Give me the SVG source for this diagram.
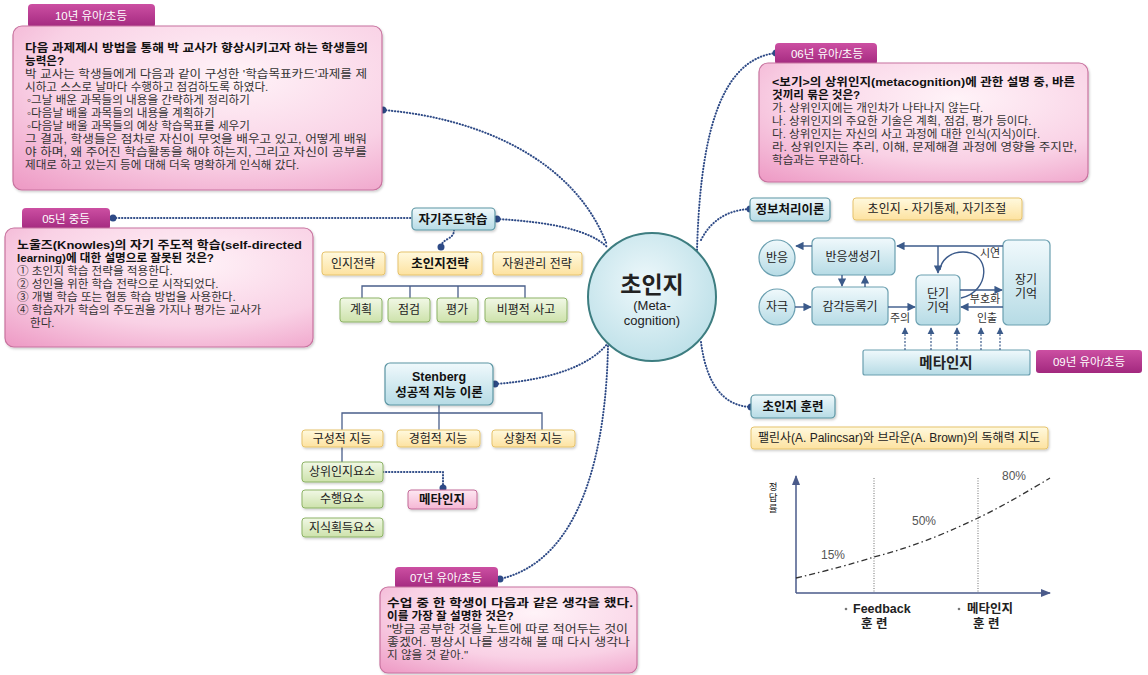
<svg xmlns="http://www.w3.org/2000/svg" width="1148" height="675" viewBox="0 0 1148 675">
<defs>
<radialGradient id="gPink" cx="0.6" cy="0.3" r="0.95">
<stop offset="0" stop-color="#fff3f8"/><stop offset="0.55" stop-color="#f9d1e5"/><stop offset="1" stop-color="#ec94c1"/>
</radialGradient>
<linearGradient id="gTab" x1="0" y1="0" x2="0" y2="1"><stop offset="0" stop-color="#cc4fa2"/><stop offset="1" stop-color="#a2287e"/></linearGradient>
<linearGradient id="gBlue" x1="0" y1="0" x2="0" y2="1"><stop offset="0" stop-color="#f0f9fc"/><stop offset="1" stop-color="#b6dbe5"/></linearGradient>
<linearGradient id="gYel" x1="0" y1="0" x2="0" y2="1"><stop offset="0" stop-color="#fff9de"/><stop offset="1" stop-color="#fde2a0"/></linearGradient>
<linearGradient id="gGrn" x1="0" y1="0" x2="0" y2="1"><stop offset="0" stop-color="#f1f8e6"/><stop offset="1" stop-color="#cde2ab"/></linearGradient>
<linearGradient id="gPk2" x1="0" y1="0" x2="0" y2="1"><stop offset="0" stop-color="#fde8f2"/><stop offset="1" stop-color="#f5b6d4"/></linearGradient>
<radialGradient id="gCirc" cx="0.45" cy="0.4" r="0.6"><stop offset="0" stop-color="#eef8fb"/><stop offset="1" stop-color="#bfe1e9"/></radialGradient>
<marker id="ah" viewBox="0 0 10 10" refX="9" refY="5" markerWidth="6" markerHeight="6" orient="auto"><path d="M0,0 L10,5 L0,10 z" fill="#3b5a8a"/></marker>
<marker id="ah2" viewBox="0 0 10 10" refX="9" refY="5" markerWidth="7" markerHeight="7" orient="auto"><path d="M0,1 L10,5 L0,9 z" fill="#4a5a8a"/></marker>
<filter id="sh" x="-10%" y="-10%" width="130%" height="140%"><feDropShadow dx="1" dy="1.5" stdDeviation="1" flood-color="#000" flood-opacity="0.2"/></filter>
</defs>
<style>
text{font-family:'Liberation Sans','Noto Sans CJK KR',sans-serif;fill:#222}
.q{fill:#333}
.b{font-weight:bold;fill:#111}
.tab{fill:url(#gTab)}
.tabt{font-size:11.5px;fill:#fff;text-anchor:middle}
.pbox{fill:url(#gPink);stroke:#c8739f;stroke-width:1.2}
.blue{fill:url(#gBlue);stroke:#5b95a3;stroke-width:1.2}
.yel{fill:url(#gYel);stroke:#e6c36c;stroke-width:1}
.grn{fill:url(#gGrn);stroke:#8db366;stroke-width:1}
.pk2{fill:url(#gPk2);stroke:#c36b98;stroke-width:1}
.lbl{font-size:12px;text-anchor:middle}
.lblb{font-size:12.5px;font-weight:bold;text-anchor:middle;fill:#111}
.dot{fill:none;stroke:#2e4a86;stroke-width:2;stroke-dasharray:0.4 2.6;stroke-linecap:round}
.end{fill:#2e4a86}
.br{fill:none;stroke:#4a5f8a;stroke-width:1.3}
.ar{fill:none;stroke:#3b5a8a;stroke-width:1.4;marker-end:url(#ah)}
.dar{fill:none;stroke:#3b5a8a;stroke-width:1.2;stroke-dasharray:2 1.5;marker-end:url(#ah)}
.ip{fill:url(#gBlue);stroke:#6a9fb0;stroke-width:1.2}
.sm{font-size:11px;text-anchor:middle;fill:#333}
.ch{font-size:12px;fill:#555;text-anchor:middle}
</style>

<g id="connectors">
<path class="dot" d="M383 110 C480 118 575 160 607 245"/>
<path class="dot" d="M497 219 C550 222 590 230 607 247"/>
<path class="dot" d="M113 218 H411"/>
<path class="dot" d="M454 230 C454 240 442 238 441 247"/>
<path class="dot" d="M697 250 C700 150 715 60 776 53"/>
<path class="dot" d="M701 240 C710 222 726 210 750 209"/>
<path class="dot" d="M701 342 C706 382 722 406 751 407"/>
<path class="dot" d="M495 384 C550 380 590 366 608 343"/>
<path class="dot" d="M608 346 C606 450 582 560 500 579"/>
<path class="dot" d="M383 472 H443 V488"/>
<circle class="end" cx="383" cy="110" r="3.5"/>
<circle class="end" cx="113" cy="218" r="3.5"/>
<circle class="end" cx="497" cy="219" r="3.5"/>
<circle class="end" cx="441" cy="247" r="3.5"/>
<circle class="end" cx="776" cy="53" r="3.5"/>
<circle class="end" cx="750" cy="209" r="3.5"/>
<circle class="end" cx="751" cy="407" r="3.5"/>
<circle class="end" cx="495" cy="384" r="3.5"/>
<circle class="end" cx="500" cy="579" r="3.5"/>
<circle class="end" cx="443" cy="488" r="3.5"/>
<path class="br" d="M362 298 V286 H525 V298 M410 286 V298 M458 286 V298"/>
<path class="br" d="M342 430 V413 H542 V430 M439 405 V430 M342 447 V462"/>
</g>

<g id="center">
<circle cx="652" cy="297" r="64" fill="url(#gCirc)" stroke="#3d7d80" stroke-width="2"/>
<text x="652" y="293" font-size="23" font-weight="bold" text-anchor="middle" fill="#111">초인지</text>
<text x="652" y="310" font-size="13" text-anchor="middle">(Meta-</text>
<text x="652" y="325" font-size="13" text-anchor="middle">cognition)</text>
</g>

<g id="q10">
<rect class="tab" x="28" y="4" width="127" height="24" rx="4"/>
<text class="tabt" x="91" y="20">10년 유아/초등</text>
<rect class="pbox" x="13" y="26" width="369" height="164" rx="9" filter="url(#sh)"/>
<text class="q b" font-size="11.6" x="25" y="52" textLength="343" lengthAdjust="spacingAndGlyphs">다음 과제제시 방법을 통해 박 교사가 향상시키고자 하는 학생들의</text>
<text class="q b" font-size="11.6" x="25" y="65">능력은?</text>
<text class="q" font-size="11.6" x="25" y="78" textLength="342" lengthAdjust="spacingAndGlyphs">박 교사는 학생들에게 다음과 같이 구성한 '학습목표카드'과제를 제</text>
<text class="q" font-size="11.6" x="25" y="91">시하고 스스로 날마다 수행하고 점검하도록 하였다.</text>
<text class="q" font-size="11.6" x="27" y="104">◦그날 배운 과목들의 내용을 간략하게 정리하기</text>
<text class="q" font-size="11.6" x="27" y="117">◦다음날 배울 과목들의 내용을 계획하기</text>
<text class="q" font-size="11.6" x="27" y="130">◦다음날 배울 과목들의 예상 학습목표를 세우기</text>
<text class="q" font-size="11.6" x="25" y="143" textLength="342" lengthAdjust="spacingAndGlyphs">그 결과, 학생들은 점차로 자신이 무엇을 배우고 있고, 어떻게 배워</text>
<text class="q" font-size="11.6" x="25" y="156" textLength="342" lengthAdjust="spacingAndGlyphs">야 하며, 왜 주어진 학습활동을 해야 하는지, 그리고 자신이 공부를</text>
<text class="q" font-size="11.6" x="25" y="169">제대로 하고 있는지 등에 대해 더욱 명확하게 인식해 갔다.</text>
</g>

<g id="q05">
<rect class="tab" x="22" y="208" width="88" height="22" rx="4"/>
<text class="tabt" x="66" y="223">05년 중등</text>
<rect class="pbox" x="5" y="228" width="308" height="119" rx="9" filter="url(#sh)"/>
<text class="q b" font-size="11.6" x="17" y="249" textLength="285" lengthAdjust="spacingAndGlyphs">노울즈(Knowles)의 자기 주도적 학습(self-directed</text>
<text class="q b" font-size="11.6" x="17" y="262">learning)에 대한 설명으로 잘못된 것은?</text>
<text class="q" font-size="11.6" x="17" y="275">① 초인지 학습 전략을 적용한다.</text>
<text class="q" font-size="11.6" x="17" y="288">② 성인을 위한 학습 전략으로 시작되었다.</text>
<text class="q" font-size="11.6" x="17" y="301">③ 개별 학습 또는 협동 학습 방법을 사용한다.</text>
<text class="q" font-size="11.6" x="17" y="314">④ 학습자가 학습의 주도권을 가지나 평가는 교사가</text>
<text class="q" font-size="11.6" x="30" y="327">한다.</text>
</g>

<g id="selfdirected">
<rect class="blue" x="412" y="208" width="83" height="22" rx="4" filter="url(#sh)"/>
<text class="lblb" x="453" y="224">자기주도학습</text>
</g>
<g id="cogstrat"><rect class="yel" x="322" y="252" width="63" height="23" rx="3" filter="url(#sh)"/><text class="lbl" x="353" y="268">인지전략</text></g>
<g id="metastrat"><rect class="yel" x="398" y="252" width="84" height="23" rx="3" filter="url(#sh)"/><text class="lblb" x="440" y="268">초인지전략</text></g>
<g id="resstrat"><rect class="yel" x="493" y="252" width="89" height="23" rx="3" filter="url(#sh)"/><text class="lbl" x="537" y="268">자원관리 전략</text></g>
<g id="plan"><rect class="grn" x="340" y="298" width="42" height="24" rx="3" filter="url(#sh)"/><text class="lbl" x="361" y="314">계획</text></g>
<g id="check"><rect class="grn" x="388" y="298" width="42" height="24" rx="3" filter="url(#sh)"/><text class="lbl" x="409" y="314">점검</text></g>
<g id="eval"><rect class="grn" x="437" y="298" width="41" height="24" rx="3" filter="url(#sh)"/><text class="lbl" x="457" y="314">평가</text></g>
<g id="critical"><rect class="grn" x="485" y="298" width="82" height="24" rx="3" filter="url(#sh)"/><text class="lbl" x="526" y="314">비평적 사고</text></g>

<g id="sternberg">
<rect class="blue" x="385" y="363" width="108" height="42" rx="5" filter="url(#sh)"/>
<text class="lblb" x="439" y="381">Stenberg</text>
<text class="lblb" x="439" y="397">성공적 지능 이론</text>
</g>
<g id="compint"><rect class="yel" x="302" y="430" width="81" height="17" rx="3" filter="url(#sh)"/><text class="lbl" x="342" y="443">구성적 지능</text></g>
<g id="expint"><rect class="yel" x="397" y="430" width="83" height="17" rx="3" filter="url(#sh)"/><text class="lbl" x="438" y="443">경험적 지능</text></g>
<g id="ctxint"><rect class="yel" x="492" y="430" width="83" height="17" rx="3" filter="url(#sh)"/><text class="lbl" x="533" y="443">상황적 지능</text></g>
<g id="metacomp"><rect class="grn" x="302" y="462" width="81" height="20" rx="3" filter="url(#sh)"/><text class="lbl" x="342" y="476">상위인지요소</text></g>
<g id="perfcomp"><rect class="grn" x="302" y="490" width="81" height="18" rx="3" filter="url(#sh)"/><text class="lbl" x="342" y="503">수행요소</text></g>
<g id="knowcomp"><rect class="grn" x="302" y="518" width="81" height="19" rx="3" filter="url(#sh)"/><text class="lbl" x="342" y="532">지식획득요소</text></g>
<g id="metanode"><rect class="pk2" x="408" y="490" width="69" height="19" rx="3" filter="url(#sh)"/><text class="lblb" x="442" y="504">메타인지</text></g>

<g id="q07">
<rect class="tab" x="395" y="567" width="103" height="22" rx="4"/>
<text class="tabt" x="446" y="582">07년 유아/초등</text>
<rect class="pbox" x="380" y="587" width="257" height="86" rx="8" filter="url(#sh)"/>
<text class="q b" font-size="11.6" x="387" y="607" textLength="246" lengthAdjust="spacingAndGlyphs">수업 중 한 학생이 다음과 같은 생각을 했다.</text>
<text class="q b" font-size="11.6" x="387" y="620">이를 가장 잘 설명한 것은?</text>
<text class="q" font-size="11.6" x="387" y="633" textLength="241" lengthAdjust="spacingAndGlyphs">"방금 공부한 것을 노트에 따로 적어두는 것이</text>
<text class="q" font-size="11.6" x="387" y="646" textLength="243" lengthAdjust="spacingAndGlyphs">좋겠어. 평상시 나를 생각해 볼 때 다시 생각나</text>
<text class="q" font-size="11.6" x="387" y="659">지 않을 것 같아."</text>
</g>

<g id="q06">
<rect class="tab" x="775" y="43" width="102" height="22" rx="4"/>
<text class="tabt" x="827" y="58">06년 유아/초등</text>
<rect class="pbox" x="759" y="63" width="329" height="119" rx="9" filter="url(#sh)"/>
<text class="q b" font-size="11.6" x="772" y="86" textLength="303" lengthAdjust="spacingAndGlyphs">&lt;보기&gt;의 상위인지(metacognition)에 관한 설명 중, 바른</text>
<text class="q b" font-size="11.6" x="772" y="99">것끼리 묶은 것은?</text>
<text class="q" font-size="11.6" x="772" y="112">가. 상위인지에는 개인차가 나타나지 않는다.</text>
<text class="q" font-size="11.6" x="772" y="125">나. 상위인지의 주요한 기술은 계획, 점검, 평가 등이다.</text>
<text class="q" font-size="11.6" x="772" y="138">다. 상위인지는 자신의 사고 과정에 대한 인식(지식)이다.</text>
<text class="q" font-size="11.6" x="772" y="151" textLength="305" lengthAdjust="spacingAndGlyphs">라. 상위인지는 추리, 이해, 문제해결 과정에 영향을 주지만,</text>
<text class="q" font-size="11.6" x="772" y="164">학습과는 무관하다.</text>
</g>

<g id="infoproc">
<rect class="blue" x="750" y="198" width="80" height="23" rx="4" filter="url(#sh)"/>
<text class="lblb" x="790" y="214">정보처리이론</text>
</g>
<g id="selfreg"><rect class="yel" x="853" y="198" width="169" height="22" rx="3" filter="url(#sh)"/><text class="lbl" x="937" y="213">초인지 - 자기통제, 자기조절</text></g>

<g id="ipmodel">
<circle class="ip" cx="777" cy="258" r="18"/><text class="lbl" x="777" y="262">반응</text>
<circle class="ip" cx="777" cy="307" r="18"/><text class="lbl" x="777" y="311">자극</text>
<rect class="ip" x="812" y="238" width="83" height="37" rx="5"/><text class="lbl" x="853" y="261">반응생성기</text>
<rect class="ip" x="812" y="287" width="76" height="38" rx="5"/><text class="lbl" x="850" y="311">감각등록기</text>
<rect class="ip" x="916" y="275" width="44" height="50" rx="5"/><text class="lbl" x="938" y="298">단기</text><text class="lbl" x="938" y="312">기억</text>
<rect class="ip" x="1003" y="240" width="47" height="85" rx="5"/><text class="lbl" x="1026" y="284">장기</text><text class="lbl" x="1026" y="298">기억</text>
<rect class="ip" x="863" y="350" width="167" height="25" rx="2"/><text x="946" y="368" font-size="14.5" font-weight="bold" text-anchor="middle" fill="#111">메타인지</text>
<path class="ar" d="M1003 246 H897"/>
<path class="ar" d="M938 246 V273"/>
<path class="ar" d="M812 246 H796"/>
<path class="ar" d="M842 275 V286"/>
<path class="ar" d="M865 287 V276"/>
<path class="ar" d="M795 307 H811"/>
<path class="ar" d="M888 307 H915"/>
<path class="ar" d="M960 290 H1002"/>
<path class="ar" d="M1003 307 H961"/>
<path fill="none" stroke="#3b5a8a" stroke-width="1.4" d="M961 298 C990 292 992 252 963 252 C949 252 941 261 940 270"/>
<text class="sm" x="990" y="257">시연</text>
<text class="sm" x="985" y="303">부호화</text>
<text class="sm" x="987" y="322">인출</text>
<text class="sm" x="900" y="322">주의</text>
<path class="dar" d="M905 350 V328"/>
<path class="dar" d="M931 350 V328"/>
<path class="dar" d="M957 350 V328"/>
<path class="dar" d="M981 350 V328"/>
<path class="dar" d="M1000 350 V328"/>
</g>

<g id="q09">
<rect class="tab" x="1036" y="350" width="106" height="23" rx="3"/>
<text class="tabt" x="1089" y="366">09년 유아/초등</text>
</g>

<g id="training">
<rect class="blue" x="751" y="395" width="84" height="23" rx="4" filter="url(#sh)"/>
<text class="lblb" x="793" y="411">초인지 훈련</text>
</g>
<g id="reading"><rect class="yel" x="751" y="427" width="297" height="22" rx="3" filter="url(#sh)"/><text class="lbl" x="899" y="442">팰린사(A. Palincsar)와 브라운(A. Brown)의 독해력 지도</text></g>

<g id="chart">
<path fill="none" stroke="#4a5a8a" stroke-width="1.5" marker-end="url(#ah2)" d="M796 593 V476"/>
<path fill="none" stroke="#4a5a8a" stroke-width="1.5" marker-end="url(#ah2)" d="M796 593 H1050"/>
<path fill="none" stroke="#888" stroke-width="1.2" stroke-dasharray="1 1.5" d="M874 478 V592 M978 478 V592"/>
<path fill="none" stroke="#333" stroke-width="1.3" stroke-dasharray="6 3 1.5 3" d="M796 578 C830 570 855 563 874 557 C920 545 950 531 978 518 C1005 505 1030 490 1050 478"/>
<text x="773" y="490" font-size="9.5" text-anchor="middle" fill="#444">정</text>
<text x="773" y="501" font-size="9.5" text-anchor="middle" fill="#444">답</text>
<text x="773" y="512" font-size="9.5" text-anchor="middle" fill="#444">률</text>
<text class="ch" x="833" y="559">15%</text>
<text class="ch" x="924" y="525">50%</text>
<text class="ch" x="1014" y="480">80%</text>
<circle cx="846" cy="609" r="1.3" fill="#777"/>
<circle cx="959" cy="609" r="1.3" fill="#777"/>
<text x="853" y="613" font-size="12.5" font-weight="bold" fill="#222">Feedback</text>
<text x="861" y="628" font-size="12.5" font-weight="bold" fill="#222">훈 련</text>
<text x="967" y="613" font-size="12.5" font-weight="bold" fill="#222">메타인지</text>
<text x="973" y="628" font-size="12.5" font-weight="bold" fill="#222">훈 련</text>
</g>
</svg>
